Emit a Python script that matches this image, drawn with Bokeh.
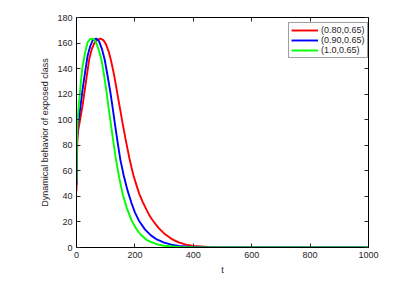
from bokeh.plotting import figure
from bokeh.models import Range1d, LinearAxis, FixedTicker, Legend, LegendItem
from bokeh.embed import file_html
from bokeh.resources import INLINE

# ---- data ----
t_red = [0, 1, 3, 6, 10, 20, 27, 35, 44, 52, 61, 70, 82, 92, 100, 110, 118, 128, 138, 148, 158, 170, 181, 188, 195, 205, 215, 227, 240, 250, 260, 280, 300, 325, 350, 375, 400, 450, 500, 600, 800, 1000]
e_red = [44, 62, 84, 92, 97, 110, 121, 134, 148, 155, 160, 162.5, 163.5, 162.3, 159.5, 153.5, 146.5, 136, 123, 110, 97, 82.5, 70, 63, 56.5, 49, 42, 35.5, 29.5, 25, 21.5, 15.5, 11, 6.8, 4, 2.3, 1.3, 0.4, 0.1, 0, 0, 0]

t_blue = [0, 1, 2, 4, 10, 21, 30, 38, 47, 55, 67, 77, 87, 97, 106, 116, 124, 132, 141, 150, 162, 175, 188, 200, 215, 235, 255, 275, 300, 325, 350, 400, 450, 500, 600, 800, 1000]
e_blue = [49, 70, 85, 95, 104, 124, 138, 150, 157.5, 162, 163.5, 161.5, 155.5, 146.5, 135, 121.5, 109, 96, 82, 69, 56, 44.5, 35, 27.5, 20.5, 14, 9.5, 6.3, 3.8, 2.2, 1.3, 0.4, 0.1, 0.03, 0, 0, 0]

t_green = [0, 1, 2, 5, 10, 15, 21, 30, 38, 46, 56, 65, 75, 86, 95, 103, 110, 118, 126, 135, 146, 158, 172, 189, 205, 220, 240, 260, 280, 300, 350, 400, 500, 600, 800, 1000]
e_green = [52, 75, 90, 104, 116, 130, 142, 153, 160.5, 163, 163.5, 161.5, 155.5, 146.5, 134, 121.5, 109, 96, 83, 69, 55, 42, 31, 21, 14.5, 10, 6, 3.8, 2.3, 1.4, 0.45, 0.15, 0.02, 0, 0, 0]

series_labels = ["(0.80,0.65)", "(0.90,0.65)", "(1.0,0.65)"]
series_colors = ["#ff0000", "#0000ff", "#00ff00"]

x_ticks = [0, 200, 400, 600, 800, 1000]
y_ticks = [0, 20, 40, 60, 80, 100, 120, 140, 160, 180]

FONT = "Liberation Sans"

p = figure(width=412, height=277, x_range=Range1d(0, 1000), y_range=Range1d(0, 180),
           output_backend="svg", toolbar_location=None,
           min_border_left=76, min_border_right=44, min_border_top=17, min_border_bottom=30)
p.grid.visible = False
p.outline_line_color = "black"
p.outline_line_width = 1
p.background_fill_color = "white"
p.border_fill_color = "white"

p.xaxis.ticker = FixedTicker(ticks=x_ticks)
p.yaxis.ticker = FixedTicker(ticks=y_ticks)
for ax in (p.xaxis[0], p.yaxis[0]):
    ax.axis_line_color = "black"
    ax.major_tick_in = 4
    ax.major_tick_out = 0
    ax.major_tick_line_color = "#262626"
    ax.minor_tick_line_color = None
    ax.major_label_text_font = FONT
    ax.major_label_text_font_size = "9px"
    ax.major_label_text_color = "#262626"
    ax.axis_label_text_font = FONT
    ax.axis_label_text_font_size = "9px"
    ax.axis_label_text_font_style = "normal"
    ax.axis_label_text_color = "#262626"

p.xaxis.axis_label = "t"
p.xaxis.major_label_standoff = 4
p.xaxis.axis_label_standoff = 4
p.yaxis.axis_label = "Dynamical behavior of exposed class"
p.yaxis.major_label_standoff = 4
p.yaxis.axis_label_standoff = 4

for loc, ticks in (("right", y_ticks), ("above", x_ticks)):
    ax = LinearAxis(ticker=FixedTicker(ticks=ticks))
    ax.axis_line_color = "black"
    ax.major_tick_in = 4
    ax.major_tick_out = 0
    ax.major_tick_line_color = "#262626"
    ax.minor_tick_line_color = None
    ax.major_label_text_color = None
    ax.major_label_text_font_size = "1px"
    ax.major_label_standoff = 0
    p.add_layout(ax, loc)

renderers = []
for (tt, ee), col in zip([(t_red, e_red), (t_blue, e_blue), (t_green, e_green)], series_colors):
    r = p.line(tt, ee, line_color=col, line_width=1.9)
    renderers.append(r)

legend = Legend(items=[LegendItem(label=lab, renderers=[r]) for lab, r in zip(series_labels, renderers)],
                location=(212, 189), margin=0, padding=2, spacing=0,
                glyph_width=27, glyph_height=10, label_height=10, label_standoff=3,
                label_text_font=FONT, label_text_font_size="9px", label_text_color="#262626",
                border_line_color="#404040", border_line_width=1,
                background_fill_color="white", background_fill_alpha=1)
p.add_layout(legend)

open("out.html", "w").write(file_html(p, INLINE))
